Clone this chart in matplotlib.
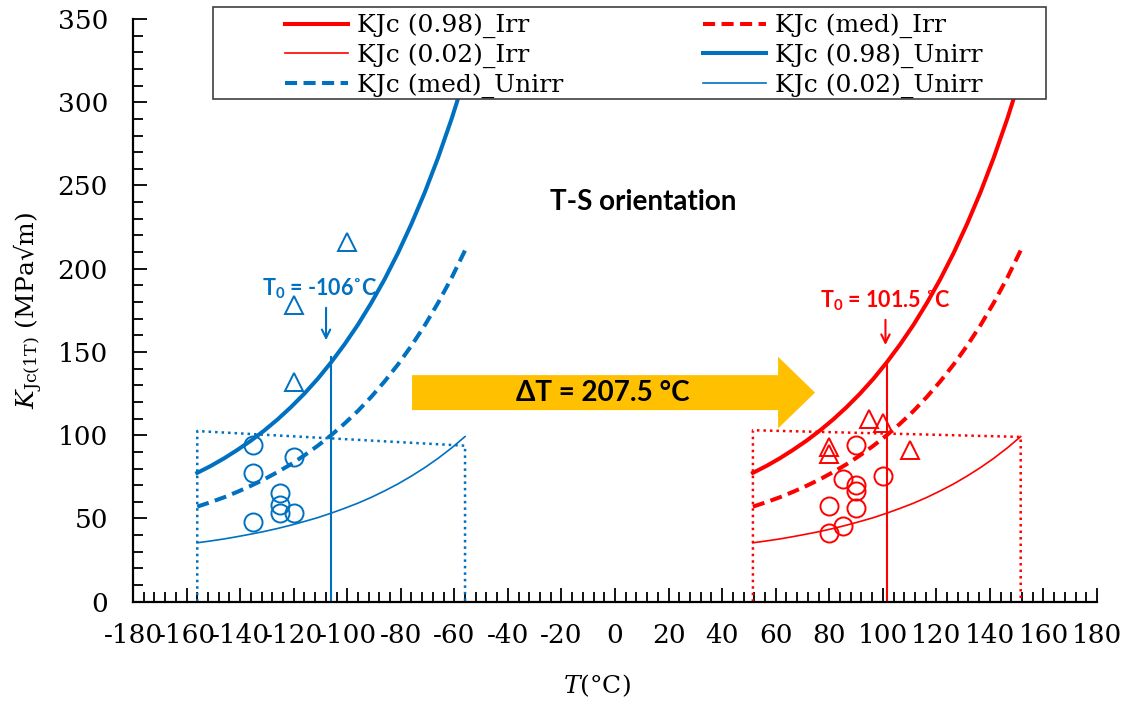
import matplotlib
matplotlib.use('Agg')
import matplotlib.pyplot as plt
import matplotlib.patches as mpatches
from matplotlib.ticker import MultipleLocator

# Master-curve style bounds (T0-50 ... T0+50 every 5 C)
unirr_T = [-156, -151, -146, -141, -136, -131, -126, -121, -116, -111, -106,
           -101, -96, -91, -86, -81, -76, -71, -66, -61, -56]
irr_T = [51.5, 56.5, 61.5, 66.5, 71.5, 76.5, 81.5, 86.5, 91.5, 96.5, 101.5,
         106.5, 111.5, 116.5, 121.5, 126.5, 131.5, 136.5, 141.5, 146.5, 151.5]
k_098 = [77.4, 81.5, 86.1, 91.2, 96.7, 102.8, 109.5, 116.9, 125.0, 133.9, 143.8,
         154.6, 166.4, 179.5, 193.8, 209.6, 227.0, 246.0, 267.0, 290.1, 315.5]
k_med = [57.1, 59.8, 62.7, 66.0, 69.6, 73.5, 77.9, 82.6, 87.9, 93.7, 100.0,
         107.0, 114.6, 123.1, 132.4, 142.6, 153.8, 166.1, 179.7, 194.6, 211.0]
k_002 = [35.4, 36.5, 37.7, 39.1, 40.6, 42.2, 44.0, 46.0, 48.2, 50.5, 53.2,
         56.1, 59.2, 62.7, 66.6, 70.8, 75.5, 80.6, 86.2, 92.4, 99.2]

# T0 lines
t0_unirr = -106
t0_irr = 101.5
t0_top = [147, 144]

# validity boxes (dotted)
box_unirr_T = [-156, -156, -56, -56]
box_unirr_K = [0, 102.5, 93.7, 0]
box_irr_T = [51.5, 51.5, 151.5, 151.5]
box_irr_K = [0, 103, 99, 0]

# test data
unirr_circ_T = [-135, -135, -135, -120, -125, -125, -125, -120]
unirr_circ_K = [94, 77.5, 48, 87, 65.5, 58, 53, 53]
unirr_tri_T = [-100, -120, -120]
unirr_tri_K = [216, 178, 132]
irr_circ_T = [90, 85, 90, 90, 100, 80, 90, 85, 80]
irr_circ_K = [94, 73.5, 70, 66.7, 75.5, 57.7, 56.5, 45.5, 41.1]
irr_tri_T = [95, 100, 80, 80, 110]
irr_tri_K = [110, 107.5, 93, 89, 91]

BLUE = '#0070C0'
RED = '#FF0000'
ORANGE = '#FFC000'

plt.rcParams['font.family'] = 'DejaVu Serif'
plt.rcParams['axes.unicode_minus'] = False
plt.rcParams['mathtext.fontset'] = 'custom'
plt.rcParams['mathtext.rm'] = 'Lato:bold'
plt.rcParams['mathtext.bf'] = 'Lato:bold'
plt.rcParams['mathtext.it'] = 'Lato:bold:italic'

fig = plt.figure(figsize=(11.27, 7.06), dpi=100)
ax = fig.add_axes([0.118, 0.1477, 0.8554, 0.8254])

thick = 2.9
thin = 1.2
dash = (3, 1.6)

h98i, = ax.plot(irr_T, k_098, color=RED, lw=thick, label='KJc (0.98)_Irr')
hmdi, = ax.plot(irr_T, k_med, color=RED, lw=thick, dashes=dash, label='KJc (med)_Irr')
h02i, = ax.plot(irr_T, k_002, color=RED, lw=thin, label='KJc (0.02)_Irr')
h98u, = ax.plot(unirr_T, k_098, color=BLUE, lw=thick, label='KJc (0.98)_Unirr')
hmdu, = ax.plot(unirr_T, k_med, color=BLUE, lw=thick, dashes=dash, label='KJc (med)_Unirr')
h02u, = ax.plot(unirr_T, k_002, color=BLUE, lw=thin, label='KJc (0.02)_Unirr')

ax.plot([t0_unirr, t0_unirr], [0, t0_top[0]], color=BLUE, lw=1.5)
ax.plot([t0_irr, t0_irr], [0, t0_top[1]], color=RED, lw=1.5)

ax.plot(box_unirr_T, box_unirr_K, color=BLUE, lw=1.8, ls=(0, (1, 1.6)), clip_on=False)
ax.plot(box_irr_T, box_irr_K, color=RED, lw=1.8, ls=(0, (1, 1.6)), clip_on=False)

mk = dict(ls='none', mfc='none', ms=13, mew=1.4)
ax.plot(unirr_circ_T, unirr_circ_K, marker='o', mec=BLUE, **mk)
ax.plot(unirr_tri_T, unirr_tri_K, marker='^', mec=BLUE, **mk)
ax.plot(irr_circ_T, irr_circ_K, marker='o', mec=RED, **mk)
ax.plot(irr_tri_T, irr_tri_K, marker='^', mec=RED, **mk)

# shift arrow
arrow = mpatches.FancyArrow(-75.8, 125.6, 150.5, 0, width=21, head_width=43,
                            head_length=13.8, length_includes_head=True,
                            color=ORANGE, lw=0, zorder=3)
ax.add_patch(arrow)
sans = ['Lato', 'DejaVu Sans']
ax.text(-4.5, 125.5, 'ΔT = 207.5 °C', fontsize=20, fontweight='bold', family=sans,
        ha='center', va='center', zorder=4)
ax.text(10.4, 240, 'T-S orientation', fontsize=20, fontweight='bold', family=sans,
        ha='center', va='center')

ax.text(-110.2, 188.3, 'T$_{0}$ = -106˚C', color=BLUE, fontsize=15.5, fontweight='bold',
        family=sans, ha='center', va='center')
ax.annotate('', xy=(-107.9, 155.4), xytext=(-107.9, 178.2),
            arrowprops=dict(arrowstyle='->', color=BLUE, lw=1.5, mutation_scale=15))
ax.text(100.8, 181, 'T$_{0}$ = 101.5 ˚C', color=RED, fontsize=15.5, fontweight='bold',
        family=sans, ha='center', va='center')
ax.annotate('', xy=(101, 152.5), xytext=(101, 171),
            arrowprops=dict(arrowstyle='->', color=RED, lw=1.5, mutation_scale=15))

ax.set_xlim(-180, 180)
ax.set_ylim(0, 350)
ax.xaxis.set_major_locator(MultipleLocator(20))
ax.xaxis.set_minor_locator(MultipleLocator(4))
ax.yaxis.set_major_locator(MultipleLocator(50))
ax.yaxis.set_minor_locator(MultipleLocator(10))
ax.tick_params(which='major', direction='in', length=10, width=1.3, labelsize=19,
               pad=18, colors='black')
ax.tick_params(which='minor', direction='in', length=7, width=1.3)
ax.tick_params(axis='x', which='major', pad=15)
for s in ['top', 'right']:
    ax.spines[s].set_visible(False)
for s in ['left', 'bottom']:
    ax.spines[s].set_linewidth(1.6)

ax.set_ylabel(r'$K_{\mathrm{Jc(1T)}}$ (MPa√m)', fontsize=18, math_fontfamily='dejavuserif')
ax.yaxis.set_label_coords(-0.091, 0.5)
ax.set_xlabel(r'$T$(°C)', fontsize=18, math_fontfamily='dejavuserif')
ax.xaxis.set_label_coords(0.481, -0.122)

# legend frame drawn separately so it can be wider than its content
frame = mpatches.Rectangle((213 / 1127, 1 - 99 / 706), 833 / 1127, 92 / 706,
                           transform=fig.transFigure, facecolor='white',
                           edgecolor='#404040', lw=1.2, zorder=4.5, clip_on=False)
ax.add_patch(frame)
handles = [h98i, h02i, hmdu, hmdi, h98u, h02u]
leg = ax.legend(handles, [h.get_label() for h in handles], ncol=2, frameon=False,
                loc='center', bbox_to_anchor=(0.5626, 0.921),
                bbox_transform=fig.transFigure, fontsize=18, handlelength=2.52,
                handletextpad=0.35, columnspacing=5.6, labelspacing=0.2, borderpad=0)
leg.set_zorder(5)

fig.savefig('out.png', dpi=100, facecolor='white')
